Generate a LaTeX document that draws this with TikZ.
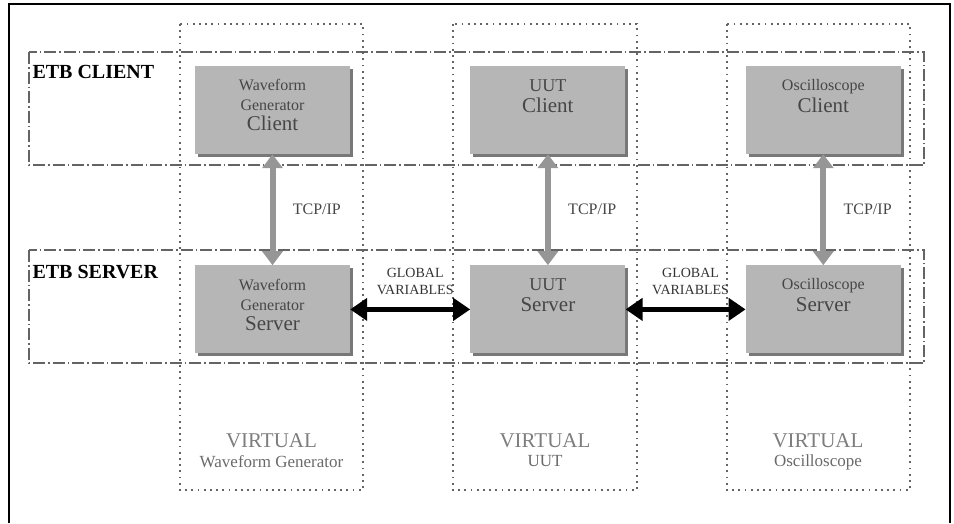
\documentclass[tikz,border=0pt]{standalone}
\usepackage{fontspec}
\setmainfont{Liberation Serif}
\usetikzlibrary{positioning,arrows.meta,shadows}

\definecolor{blockgray}{RGB}{182,182,182}
\definecolor{shadowgray}{RGB}{120,120,120}
\definecolor{boxtext}{RGB}{70,70,70}
\definecolor{arrowgray}{RGB}{150,150,150}
\definecolor{linegray}{RGB}{100,100,100}
\definecolor{virtgray}{RGB}{125,125,125}

\newcommand{\bigtxt}{\fontsize{21}{21}\selectfont}
\newcommand{\midtxt}{\fontsize{18}{20}\selectfont}

\begin{document}
\begin{tikzpicture}[x=1pt,y=-1pt,
		blockbox/.style={rectangle, fill=blockgray, minimum width=155pt, minimum height=88pt, inner sep=0pt,
			general shadow={fill=shadowgray, shadow xshift=3pt, shadow yshift=-3pt}},
		blocktext/.style={anchor=north, yshift=-10pt, align=center, text=boxtext, font=\fontsize{16}{20}\selectfont},
		rowbox/.style={draw=linegray, line width=1.1pt, dash pattern=on 12pt off 3pt on 1.5pt off 3pt},
		colbox/.style={draw=linegray, line width=1.6pt, dash pattern=on 1.8pt off 4.4pt},
		tcparrow/.style={draw=arrowgray, line width=6pt,
			{Triangle[width=20pt,length=14pt]}-{Triangle[width=20pt,length=14pt]}},
		gvarrow/.style={draw=black, line width=5pt,
			{Triangle[width=22pt,length=17pt]}-{Triangle[width=22pt,length=17pt]}},
		tcplabel/.style={midway, right=14pt, text=boxtext, font=\fontsize{16}{19}\selectfont},
		gvlabel/.style={midway, above=9pt, xshift=5pt, align=center, text=black!80, font=\fontsize{14}{17}\selectfont},
		rowlabel/.style={anchor=west, font=\fontsize{20}{20}\selectfont\bfseries},
		virtlabel/.style={text=virtgray, font=\fontsize{21}{21}\selectfont},
		virtsub/.style={text=virtgray!85!black, font=\fontsize{17}{17}\selectfont},
		]
		\useasboundingbox (0,0) rectangle (954,523);
		
		%Frame
		\draw[line width=2pt] (9,523) -- (9,4) -- (950,4) -- (950,523);
		
		%Rows and columns
		\draw[rowbox] (29,52) rectangle (924,165);
		\draw[rowbox] (29,250) rectangle (924,363);
		\draw[colbox] (180,24) rectangle (363,490);
		\draw[colbox] (453,24) rectangle (637,490);
		\draw[colbox] (727,24) rectangle (910,490);
		
		\node[rowlabel] (etbc) at (29,72) {ETB CLIENT};
		\node[rowlabel] (etbs) at (29,272) {ETB SERVER};
		
		%Nodes
		\node[blockbox] (wgc) at (272.5,110)
			[label={[blocktext]north:{Waveform\\Generator\\\bigtxt Client}}] {};
		\node[blockbox] (uutc) [right=120pt of wgc]
			[label={[blocktext]north:{\midtxt UUT\\[1pt]\bigtxt Client}}] {};
		\node[blockbox] (oscc) [right=120pt of uutc]
			[label={[blocktext]north:{Oscilloscope\\[2pt]\bigtxt Client}}] {};
		\node[blockbox] (wgs) [below=111pt of wgc]
			[label={[blocktext]north:{Waveform\\Generator\\\bigtxt Server}}] {};
		\node[blockbox] (uuts) [below=111pt of uutc]
			[label={[blocktext]north:{\midtxt UUT\\[1pt]\bigtxt Server}}] {};
		\node[blockbox] (oscs) [below=111pt of oscc]
			[label={[blocktext]north:{Oscilloscope\\[2pt]\bigtxt Server}}] {};
		
		\node[virtlabel] (vwg)  at (271.5,441) {VIRTUAL};
		\node[virtsub]   (swg)  [below=0pt of vwg] {Waveform Generator};
		\node[virtlabel] (vuut) at (545,441) {VIRTUAL};
		\node[virtsub]   (suut) [below=0pt of vuut] {UUT};
		\node[virtlabel] (vosc) at (818,441) {VIRTUAL};
		\node[virtsub]   (sosc) [below=0pt of vosc] {Oscilloscope};
		
		%Lines
		\draw[tcparrow] (wgc) -- node[tcplabel] {TCP/IP} (wgs);
		\draw[tcparrow] (uutc) -- node[tcplabel] {TCP/IP} (uuts);
		\draw[tcparrow] (oscc) -- node[tcplabel] {TCP/IP} (oscs);
		\draw[gvarrow] (wgs) -- node[gvlabel] {GLOBAL\\VARIABLES} (uuts);
		\draw[gvarrow] (uuts) -- node[gvlabel] {GLOBAL\\VARIABLES} (oscs);
\end{tikzpicture}
\end{document}
